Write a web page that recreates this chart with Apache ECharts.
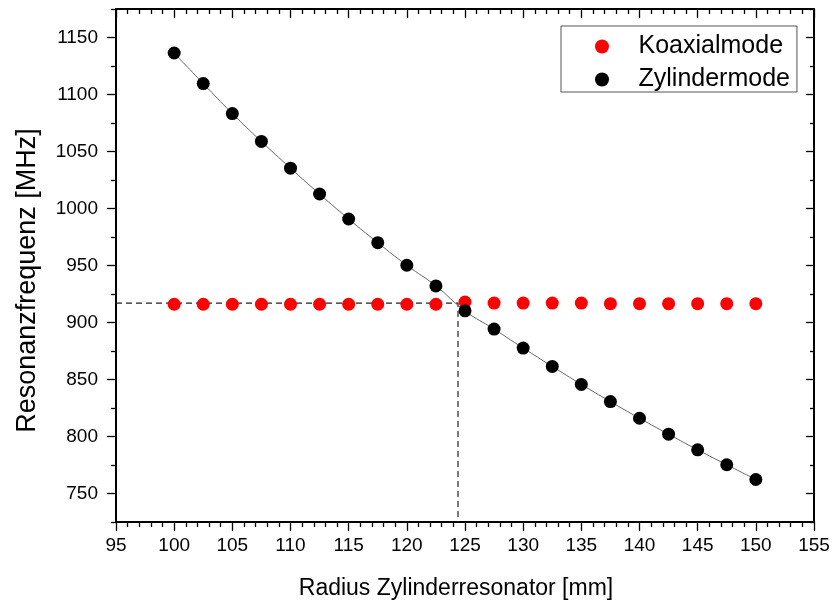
<!DOCTYPE html>
<html><head><meta charset="utf-8">
<script src="https://cdn.jsdelivr.net/npm/echarts@6/dist/echarts.min.js"></script>
<style>html,body{margin:0;padding:0;background:#fff}#c{width:833px;height:605px}</style>
</head><body><div id="c"></div>
<script>
// ---- data ----
const radius = [100, 102.5, 105, 107.5, 110, 112.5, 115, 117.5, 120, 122.5, 125, 127.5, 130, 132.5, 135, 137.5, 140, 142.5, 145, 147.5, 150];
const koaxial = [916, 916, 916, 916, 916, 916, 916, 916, 916, 916, 918, 917, 917, 917, 917, 916.5, 916.5, 916.5, 916.5, 916.5, 916.5];
const zylinder = [1136.4, 1109.6, 1083.3, 1058.8, 1035.4, 1012.7, 990.8, 970.0, 950.2, 932.1, 910.2, 894.2, 877.6, 861.5, 845.7, 830.6, 816.0, 802.0, 788.3, 775.2, 762.3];
const crossX = 124.4;   // intersection radius (dashed guide)
const crossY = 917;     // intersection frequency (dashed guide)
const xMin = 95, xMax = 155, xStep = 5;
const yMin = 725, yMax = 1175;
const yMajorTicks = [750, 800, 850, 900, 950, 1000, 1050, 1100, 1150];
const yMinorTicks = [725, 775, 825, 875, 925, 975, 1025, 1075, 1125, 1175];
const seriesNames = ['Koaxialmode', 'Zylindermode'];
const xTitle = 'Radius Zylinderresonator [mm]';
const yTitle = 'Resonanzfrequenz [MHz]';

// ---- chart ----
const FONT = '"Liberation Sans", Arial, sans-serif';
const chart = echarts.init(document.getElementById('c'), null, {renderer: 'canvas'});
const lineCol = '#000';
function yAx(pos, ticks, len, inside, labels, extra) {
  return Object.assign({
    type: 'value', position: pos, min: yMin, max: yMax, offset: 0,
    axisLine: {show: true, onZero: false, lineStyle: {color: lineCol, width: 2}},
    axisTick: {show: true, inside: inside, length: len, customValues: ticks, lineStyle: {color: lineCol, width: 1.3}},
    axisLabel: labels ? {show: true, customValues: ticks, fontSize: 19, color: '#000', fontFamily: FONT, margin: 18,
      formatter: v => String(v)} : {show: false},
    splitLine: {show: false}
  }, extra || {});
}
function xAx(pos, inside, labels, extra) {
  return Object.assign({
    type: 'value', position: pos, min: xMin, max: xMax, interval: xStep,
    axisLine: {show: true, onZero: false, lineStyle: {color: lineCol, width: 2}},
    axisTick: {show: true, inside: inside, length: 9, lineStyle: {color: lineCol, width: 1.3}},
    minorTick: {show: true, splitNumber: 5, length: 5, lineStyle: {color: lineCol, width: 1.3}},
    axisLabel: labels ? {show: true, fontSize: 19, color: '#000', fontFamily: FONT, margin: 14, showMinLabel: true, showMaxLabel: true,
      formatter: v => String(v)} : {show: false},
    splitLine: {show: false}
  }, extra || {});
}
const option = {
  animation: false,
  backgroundColor: '#fff',
  grid: {left: 116, right: 19, top: 9, bottom: 83, containLabel: false, outerBoundsMode: 'none'},
  legend: {
    data: seriesNames,
    orient: 'vertical', left: 561, top: 26,
    padding: [8, 7, 0, 34], itemGap: 8,
    itemWidth: 63, itemHeight: 14, icon: 'circle',
    borderColor: '#555', borderWidth: 1,
    textStyle: {fontSize: 25, color: '#000', fontFamily: FONT}
  },
  xAxis: [
    xAx('bottom', false, true, {
      name: xTitle, nameLocation: 'middle', nameGap: 55,
      nameTextStyle: {fontSize: 23, color: '#000', fontFamily: FONT, padding: [0, 18, 0, 0]}
    }),
    xAx('top', true, false)
  ],
  yAxis: [
    yAx('left', yMajorTicks, 9, false, true, {
      name: yTitle, nameLocation: 'middle', nameGap: 75,
      nameTextStyle: {fontSize: 27, color: '#000', fontFamily: FONT, padding: [0, 30, 0, 0]}
    }),
    yAx('left', yMinorTicks, 5, false, false, {axisLine: {show: false}}),
    yAx('right', yMajorTicks, 8, true, false),
    yAx('right', yMinorTicks, 4, true, false, {axisLine: {show: false}})
  ],
  series: [
    {
      name: 'guide', type: 'line', xAxisIndex: 0, yAxisIndex: 0, silent: true,
      symbol: 'none', z: 1,
      lineStyle: {color: '#222', width: 1.2, type: [6, 4]},
      data: [[xMin, crossY], [crossX, crossY], [crossX, yMin]]
    },
    {
      name: seriesNames[0], type: 'scatter', xAxisIndex: 0, yAxisIndex: 0,
      symbol: 'circle', symbolSize: 13, z: 2,
      itemStyle: {color: '#ff0000', opacity: 1},
      data: radius.map((r, i) => [r, koaxial[i]])
    },
    {
      name: seriesNames[1], type: 'line', xAxisIndex: 0, yAxisIndex: 0,
      symbol: 'circle', symbolSize: 13, smooth: true, z: 3,
      itemStyle: {color: '#000', opacity: 1},
      lineStyle: {color: '#666', width: 1},
      data: radius.map((r, i) => [r, zylinder[i]])
    }
  ]
};
chart.setOption(option);
</script></body></html>
